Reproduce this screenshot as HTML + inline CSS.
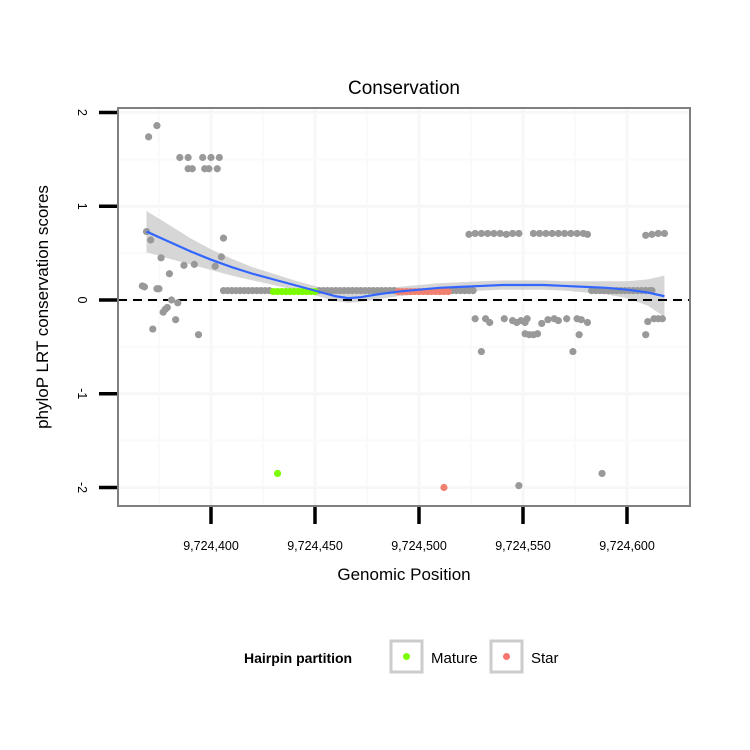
<!DOCTYPE html>
<html><head><meta charset="utf-8"><style>
body{margin:0;background:#fff}
svg{display:block;font-family:"Liberation Sans",sans-serif}
</style></head><body>
<svg id="c" width="750" height="750" viewBox="0 0 750 750">
<rect width="750" height="750" fill="#fff"/>
<text x="404" y="94" font-size="19" text-anchor="middle">Conservation</text>
<g id="grid"></g>
<g id="band"></g>
<line x1="118" x2="690" y1="300" y2="300" stroke="#000" stroke-width="2" stroke-dasharray="9,6" id="zl"/>
<g id="pts"></g>
<path id="fit" fill="none" stroke="#3366ff" stroke-width="2.2"/>
<rect x="118" y="108" width="572" height="398" fill="none" stroke="#7f7f7f" stroke-width="2"/>
<g id="axes"></g>
<text x="404" y="580" font-size="17" text-anchor="middle">Genomic Position</text>
<text transform="translate(48,307) rotate(-90)" font-size="17" text-anchor="middle">phyloP LRT conservation scores</text>
<g>
<text x="244" y="663" font-size="14" font-weight="bold">Hairpin partition</text>
<g>
<rect x="391" y="641" width="31" height="31" fill="#fff" stroke="#ccc" stroke-width="3"/>
<circle cx="406.5" cy="656.5" r="3.5" fill="#7cfc00"/>
<text x="431" y="663" font-size="15">Mature</text></g>
<g>
<rect x="491" y="641" width="31" height="31" fill="#fff" stroke="#ccc" stroke-width="3"/>
<circle cx="506.5" cy="656.5" r="3.5" fill="#f8766d"/>
<text x="531" y="663" font-size="15">Star</text></g>
</g>
</svg>
<script>
const xTicks=[9724400,9724450,9724500,9724550,9724600];
const xTickLabels=["9,724,400","9,724,450","9,724,500","9,724,550","9,724,600"];
const yTicks=[-2,-1,0,1,2];
const grayPos=[374,370,385,389,396,400,404,389,391,397,399,403,369,371,376,387,392,406,405,402,380,367,368,374,375,381,384,378,377,379,383,372,394,
524,527,530,533,536,539,542,545,548,555,558,561,564,567,570,573,576,579,581,609,612,615,618,
527,532,534,541,545,547,549,551,552,559,562,565,567,571,576,578,581,610,613,615,617,551,553,555,557,577,609,530,574,548,588];
const grayVal=[1.86,1.74,1.52,1.52,1.52,1.52,1.52,1.40,1.40,1.40,1.40,1.40,0.73,0.64,0.45,0.37,0.38,0.66,0.46,0.36,0.28,0.15,0.14,0.12,0.12,0,-0.03,-0.1,-0.13,-0.08,-0.21,-0.31,-0.37,
0.7,0.71,0.71,0.71,0.71,0.71,0.7,0.71,0.71,0.71,0.71,0.71,0.71,0.71,0.71,0.71,0.71,0.71,0.7,0.69,0.7,0.71,0.71,
-0.2,-0.2,-0.24,-0.2,-0.22,-0.24,-0.22,-0.24,-0.2,-0.25,-0.21,-0.2,-0.22,-0.2,-0.2,-0.21,-0.24,-0.23,-0.2,-0.2,-0.2,-0.36,-0.37,-0.37,-0.36,-0.37,-0.37,-0.55,-0.55,-1.98,-1.85];
const rowGray=[406,408,410,412,414,416,418,420,422,424,426,428,452,454,456,458,460,462,464,466,468,470,472,474,476,478,480,482,484,486,488,516,518,520,522,524,526,583,585,587,589,591,593,595,597,599,601,603,605,607,609,611,612];
const rowGrayVal=0.1;
const maturePos=[430,432,434,436,438,440,442,444,446,448,450,432];
const matureVal=[0.09,0.09,0.09,0.09,0.09,0.09,0.09,0.09,0.09,0.09,0.09,-1.85];
const starPos=[490,492,494,496,498,500,502,504,506,508,510,512,514,512];
const starVal=[0.09,0.09,0.09,0.09,0.09,0.09,0.09,0.09,0.09,0.09,0.09,0.09,0.09,-2.0];
const fitPos=[369,380,390,400,410,420,430,440,450,460,466,472,480,490,500,510,520,530,540,550,560,570,580,590,600,610,618];
const fitVal=[0.73,0.62,0.52,0.43,0.35,0.28,0.22,0.16,0.1,0.04,0.02,0.03,0.06,0.09,0.11,0.13,0.14,0.15,0.16,0.16,0.16,0.15,0.14,0.13,0.11,0.08,0.04];
const fitHalf=[0.22,0.18,0.14,0.11,0.09,0.07,0.06,0.05,0.05,0.05,0.05,0.05,0.05,0.05,0.05,0.05,0.05,0.05,0.05,0.05,0.05,0.05,0.06,0.07,0.09,0.14,0.22];
const NS="http://www.w3.org/2000/svg";
const X=p=>211+((p>9000000?p:9724000+p)-9724400)*2.08;
const Y=v=>300-v*93.75;
function mk(t,a,par){const e=document.createElementNS(NS,t);for(const k in a)e.setAttribute(k,a[k]);document.getElementById(par).appendChild(e);return e;}
// grid
xTicks.forEach((t,i)=>{const l=mk('line',{x1:X(t),x2:X(t),y1:108,y2:506,stroke:'#f7f7f7','stroke-width':3},'grid');


if(i<xTicks.length-1){const m=mk('line',{x1:X(t+25),x2:X(t+25),y1:108,y2:506,stroke:'#fafafa','stroke-width':2},'grid');

}});
const m0=mk('line',{x1:X(9724375),x2:X(9724375),y1:108,y2:506,stroke:'#fafafa','stroke-width':2},'grid');


yTicks.forEach(t=>{const l=mk('line',{x1:118,x2:690,y1:Y(t),y2:Y(t),stroke:'#f7f7f7','stroke-width':3},'grid');


[0.5,-0.5].forEach(d=>{const v=t+d;if(v>-2.2&&v<2.1){const m=mk('line',{x1:118,x2:690,y1:Y(v),y2:Y(v),stroke:'#fafafa','stroke-width':2},'grid');

}});});
// band
let bp='M'+fitPos.map((p,i)=>X(p)+','+Y(fitVal[i]+fitHalf[i])).join('L');
for(let i=fitPos.length-1;i>=0;i--)bp+='L'+X(fitPos[i])+','+Y(fitVal[i]-fitHalf[i]);
const band=mk('path',{d:bp+'Z',fill:'#c8c8c8','fill-opacity':0.75},'band');


document.getElementById('fit').setAttribute('d','M'+fitPos.map((p,i)=>X(p)+','+Y(fitVal[i])).join('L'));
// points
function pt(p,v,c,n){const e=mk('circle',{cx:X(p),cy:Y(v),r:3.6,fill:c},'pts');

}
grayPos.forEach((p,i)=>pt(p,grayVal[i],'#999','score-point'));
rowGray.forEach(p=>pt(p,rowGrayVal,'#999','score-point'));
maturePos.forEach((p,i)=>pt(p,matureVal[i],'#7cfc00','mature-point'));
starPos.forEach((p,i)=>pt(p,starVal[i],'#f08070','star-point'));
// axes
xTicks.forEach((t,i)=>{const l=mk('line',{x1:X(t),x2:X(t),y1:507,y2:524,stroke:'#000','stroke-width':3.5},'axes');


const tx=mk('text',{x:X(t),y:550,'font-size':12.5,'text-anchor':'middle'},'axes');tx.textContent=xTickLabels[i];

});
yTicks.forEach(t=>{const l=mk('line',{x1:99,x2:117,y1:Y(t),y2:Y(t),stroke:'#000','stroke-width':3.5},'axes');


const tx=mk('text',{transform:`translate(78,${Y(t)}) rotate(90)`,'font-size':12.5,'text-anchor':'middle'},'axes');tx.textContent=String(t);

});
</script>
</body></html>
